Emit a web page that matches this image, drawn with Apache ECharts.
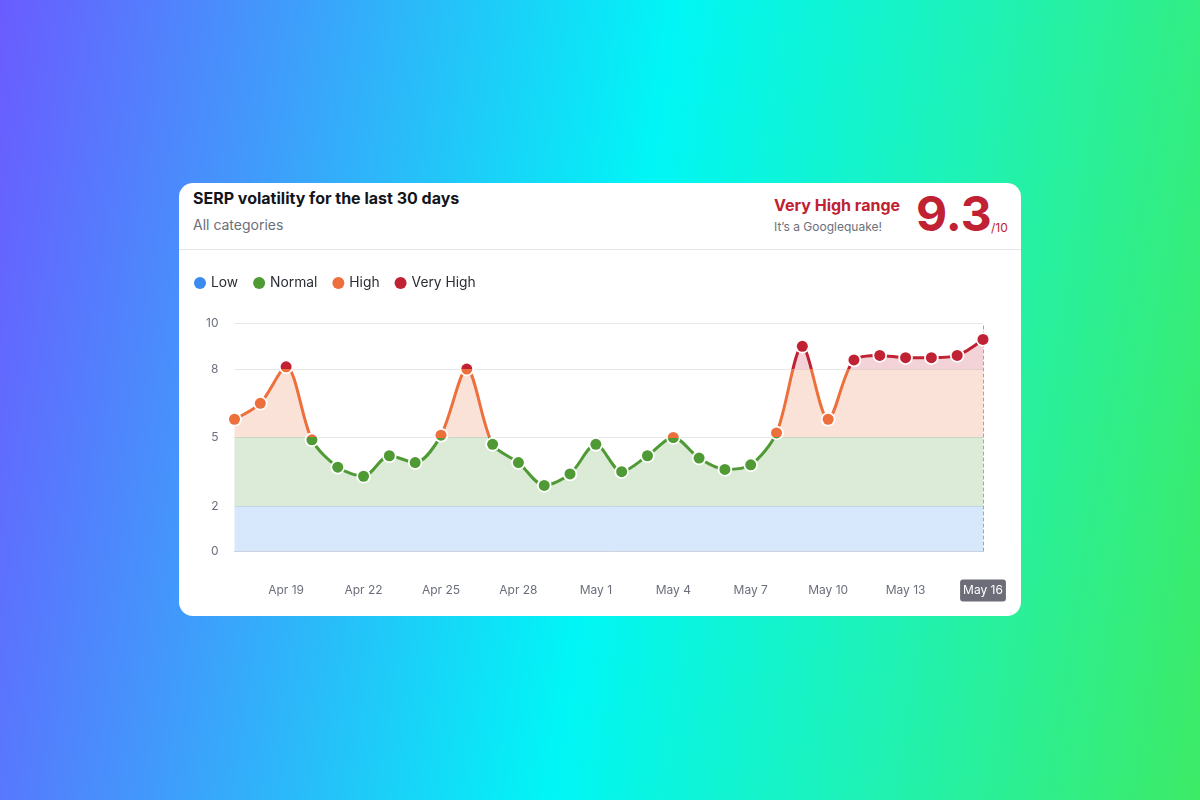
<!DOCTYPE html>
<html>
<head>
<meta charset="utf-8">
<title>SERP volatility</title>
<script src="https://cdn.jsdelivr.net/npm/echarts@6/dist/echarts.min.js"></script>
<style>
html,body{margin:0;padding:0;width:1200px;height:800px;overflow:hidden}
body{background:linear-gradient(99deg,#6a5cff 0%,#3f9dfb 22%,#00f6f6 51%,#1ff2b4 75%,#3deb66 100%);font-family:Inter,sans-serif;position:relative}
#card{position:absolute;left:179px;top:183px;width:842px;height:433px;background:#fff;border-radius:14px;overflow:hidden}
#card div{position:absolute;white-space:nowrap}
#main{left:0;top:67px;width:842px;height:366px}
</style>
</head>
<body>
<div id="card">
  <div style="left:14px;top:5px;font-size:16px;line-height:20px;font-weight:700;color:#14151a">SERP volatility for the last 30 days</div>
  <div style="left:14px;top:33px;font-size:14px;line-height:18px;color:#6b6f7b">All categories</div>
  <div style="left:595px;top:11px;font-size:16px;line-height:22px;font-weight:700;color:#c02133">Very High range</div>
  <div style="left:595px;top:36px;font-size:12px;line-height:15px;color:#6b6f7b">It’s a Googlequake!</div>
  <div style="left:737px;top:1px;font-size:48px;line-height:60px;font-weight:700;color:#c02133">9.3</div>
  <div style="left:812px;top:37px;font-size:12px;line-height:15px;color:#c02133">/10</div>
  <div style="left:0;top:66px;width:842px;height:1px;background:#e4e5e8"></div>
  <div id="main"></div>
</div>
<script type="text/javascript">
var dates = ['Apr 17','Apr 18','Apr 19','Apr 20','Apr 21','Apr 22','Apr 23','Apr 24','Apr 25','Apr 26',
  'Apr 27','Apr 28','Apr 29','Apr 30','May 1','May 2','May 3','May 4','May 5','May 6',
  'May 7','May 8','May 9','May 10','May 11','May 12','May 13','May 14','May 15','May 16'];
var volatility = [5.8,6.5,8.1,4.9,3.7,3.3,4.2,3.9,5.1,8.0,
  4.7,3.9,2.9,3.4,4.7,3.5,4.2,5.0,4.1,3.6,
  3.8,5.2,9.0,5.8,8.4,8.6,8.5,8.5,8.6,9.3];
var yTicks = [0,2,5,8,10];
var levelNames = ['Low','Normal','High','Very High'];
var levelFrom = [0,2,5,8];
var levelTo = [2,5,8,10];
var levelColors = ['#3b8bee','#4f9a35','#ec6f3c','#c02133'];

var pieces = levelNames.map(function(name,i){
  return {gte:levelFrom[i],lt:i==3?10.01:levelTo[i],label:name,color:levelColors[i]};
});

// point colour split at the band edges, so a marker on a boundary shows both colours
function markerFill(y,r,api){
  var top=y-r,stops=[];
  for(var i=3;i>=0;i--){
    var y0=api.coord([0,levelTo[i]])[1],y1=api.coord([0,levelFrom[i]])[1];
    if(i==3)y0=-1e4;
    var a=Math.max(0,(y0-top)/(2*r)),b=Math.min(1,(y1-top)/(2*r));
    if(b>a){
      stops.push({offset:a,color:levelColors[i]});
      stops.push({offset:b,color:levelColors[i]});
    }
  }
  return new echarts.graphic.LinearGradient(0,0,0,1,stops);
}

var myChart = echarts.init(document.getElementById('main'));
var option = {
  animation:false,
  textStyle:{fontFamily:'Inter'},
  grid:{left:55.5,right:38,top:73.5,bottom:64.5},
  visualMap:{
    type:'piecewise',
    seriesIndex:0,
    dimension:1,
    orient:'horizontal',
    left:0,
    top:11,
    itemWidth:12,
    itemHeight:12,
    itemGap:15,
    textGap:5,
    itemSymbol:'circle',
    selectedMode:false,
    hoverLink:false,
    textStyle:{color:'#2b2d35',fontSize:13.8,fontFamily:'Inter'},
    pieces:pieces
  },
  xAxis:{
    type:'category',
    boundaryGap:false,
    data:dates,
    axisLine:{show:true,lineStyle:{color:'#ccd3e0',width:1}},
    axisTick:{show:false},
    axisLabel:{
      margin:39,
      verticalAlign:'middle',
      fontSize:12,
      color:'#6b6f7b',
      interval:function(i){return (i-2)%3==0;},
      formatter:function(v){return v==dates[dates.length-1]?'{last|'+v+'}':v;},
      rich:{last:{color:'#fff',fontSize:12,backgroundColor:'#6c6d79',borderRadius:3,padding:[5,3,5,3]}}
    }
  },
  yAxis:{
    type:'value',
    min:0,
    max:10,
    axisLine:{show:false},
    axisTick:{show:false,customValues:yTicks},
    axisLabel:{margin:16,fontSize:12,color:'#6b6f7b',padding:[2,0,0,0],customValues:yTicks},
    splitLine:{show:true,lineStyle:{color:'#e6e7ea',width:1}}
  },
  series:[
    {
      type:'line',
      data:volatility,
      smooth:0.3,
      showSymbol:false,
      lineStyle:{width:3},
      areaStyle:{opacity:0.2},
      markLine:{
        silent:true,
        symbol:'none',
        label:{show:false},
        lineStyle:{color:'#a3a5ae',type:'dashed',width:1},
        data:[{xAxis:dates[dates.length-1]}]
      }
    },
    {
      type:'custom',
      data:volatility.map(function(v,i){return [i,v];}),
      encode:{x:0,y:1},
      z:5,
      renderItem:function(params,api){
        var c=api.coord([api.value(0),api.value(1)]);
        return {type:'group',children:[
          {type:'circle',shape:{cx:c[0],cy:c[1],r:7.3},style:{fill:'#fff'}},
          {type:'circle',shape:{cx:c[0],cy:c[1],r:5.5},style:{fill:markerFill(c[1],5.5,api)}}
        ]};
      }
    }
  ]
};
myChart.setOption(option);
</script>
</body>
</html>
